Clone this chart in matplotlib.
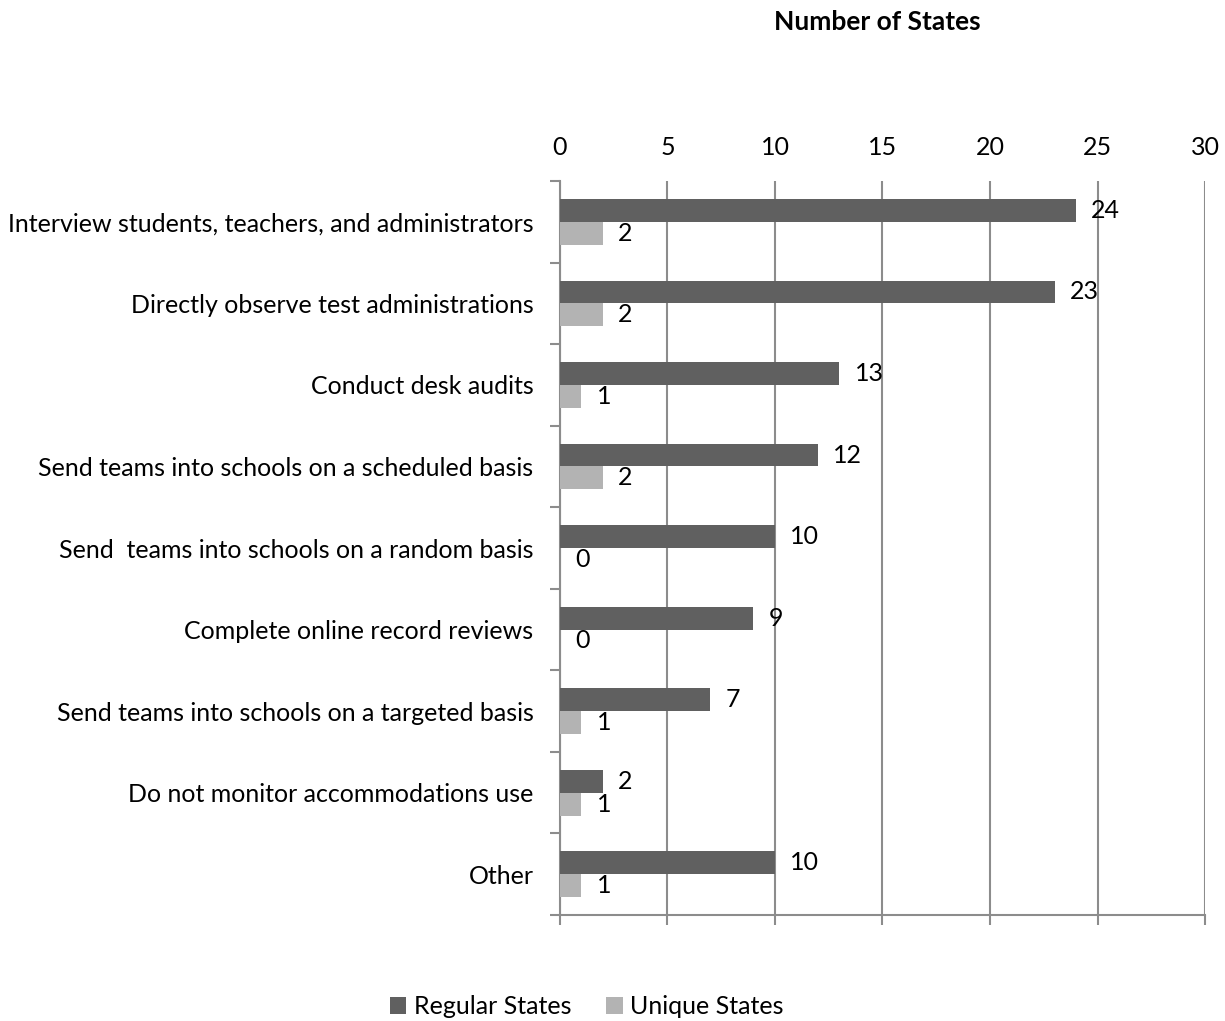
import numpy as np
import matplotlib.pyplot as plt

plt.rcParams['font.family'] = ['Lato', 'DejaVu Sans']

categories = [
    "Interview students, teachers, and administrators",
    "Directly observe test administrations",
    "Conduct desk audits",
    "Send teams into schools on a scheduled basis",
    "Send  teams into schools on a random basis",
    "Complete online record reviews",
    "Send teams into schools on a targeted basis",
    "Do not monitor accommodations use",
    "Other",
]
regular_states = [24, 23, 13, 12, 10, 9, 7, 2, 10]
unique_states = [2, 2, 1, 2, 0, 0, 1, 1, 1]
x_ticks = [0, 5, 10, 15, 20, 25, 30]

dark = "#606060"
light = "#b3b3b3"
grid_color = "#8c8c8c"
fs = 18

fig = plt.figure(figsize=(12.25, 10.21), dpi=100)
ax = fig.add_axes([0.4571, 0.1038, 0.5266, 0.7189])

y = np.arange(len(categories))
h = 0.28
bars_reg = ax.barh(y - h / 2, regular_states, height=h, color=dark, label="Regular States", zorder=3)
bars_uni = ax.barh(y + h / 2, unique_states, height=h, color=light, label="Unique States", zorder=3)

# value labels to the right of each bar
for bars, vals in ((bars_reg, regular_states), (bars_uni, unique_states)):
    for bar, v in zip(bars, vals):
        ax.annotate(str(v), (v, bar.get_y() + bar.get_height() / 2),
                    xytext=(11, 0), textcoords="offset points",
                    ha="left", va="center", fontsize=fs, zorder=4)

ax.set_xlim(0, 30)
ax.set_ylim(len(categories) - 0.5, -0.5)
ax.set_xticks(x_ticks)
ax.set_yticks(np.arange(len(categories) + 1) - 0.5, minor=True)
ax.set_yticks(y)
ax.set_yticklabels(categories, fontsize=fs)
ax.tick_params(axis="y", which="major", length=0, pad=19)
ax.tick_params(axis="y", which="minor", length=7, color=grid_color, width=1.5)
ax.tick_params(axis="x", labeltop=True, labelbottom=False, top=False, bottom=True,
               length=7, color=grid_color, width=1.5, labelsize=fs, pad=9)

ax.grid(axis="x", color=grid_color, linewidth=1.5, zorder=0)
for side in ("top", "right"):
    ax.spines[side].set_visible(False)
for side in ("left", "bottom"):
    ax.spines[side].set_color(grid_color)
    ax.spines[side].set_linewidth(1.5)

fig.text(0.716, 0.978, "Number of States", ha="center", va="center",
         fontsize=19, fontweight="bold")

fig.legend(handles=[bars_reg, bars_uni], loc="center", bbox_to_anchor=(0.479, 0.014),
           ncol=2, frameon=False, fontsize=fs, handlelength=0.65, handleheight=0.65,
           handletextpad=0.3, columnspacing=1.4)

fig.savefig("out.png", dpi=100)
